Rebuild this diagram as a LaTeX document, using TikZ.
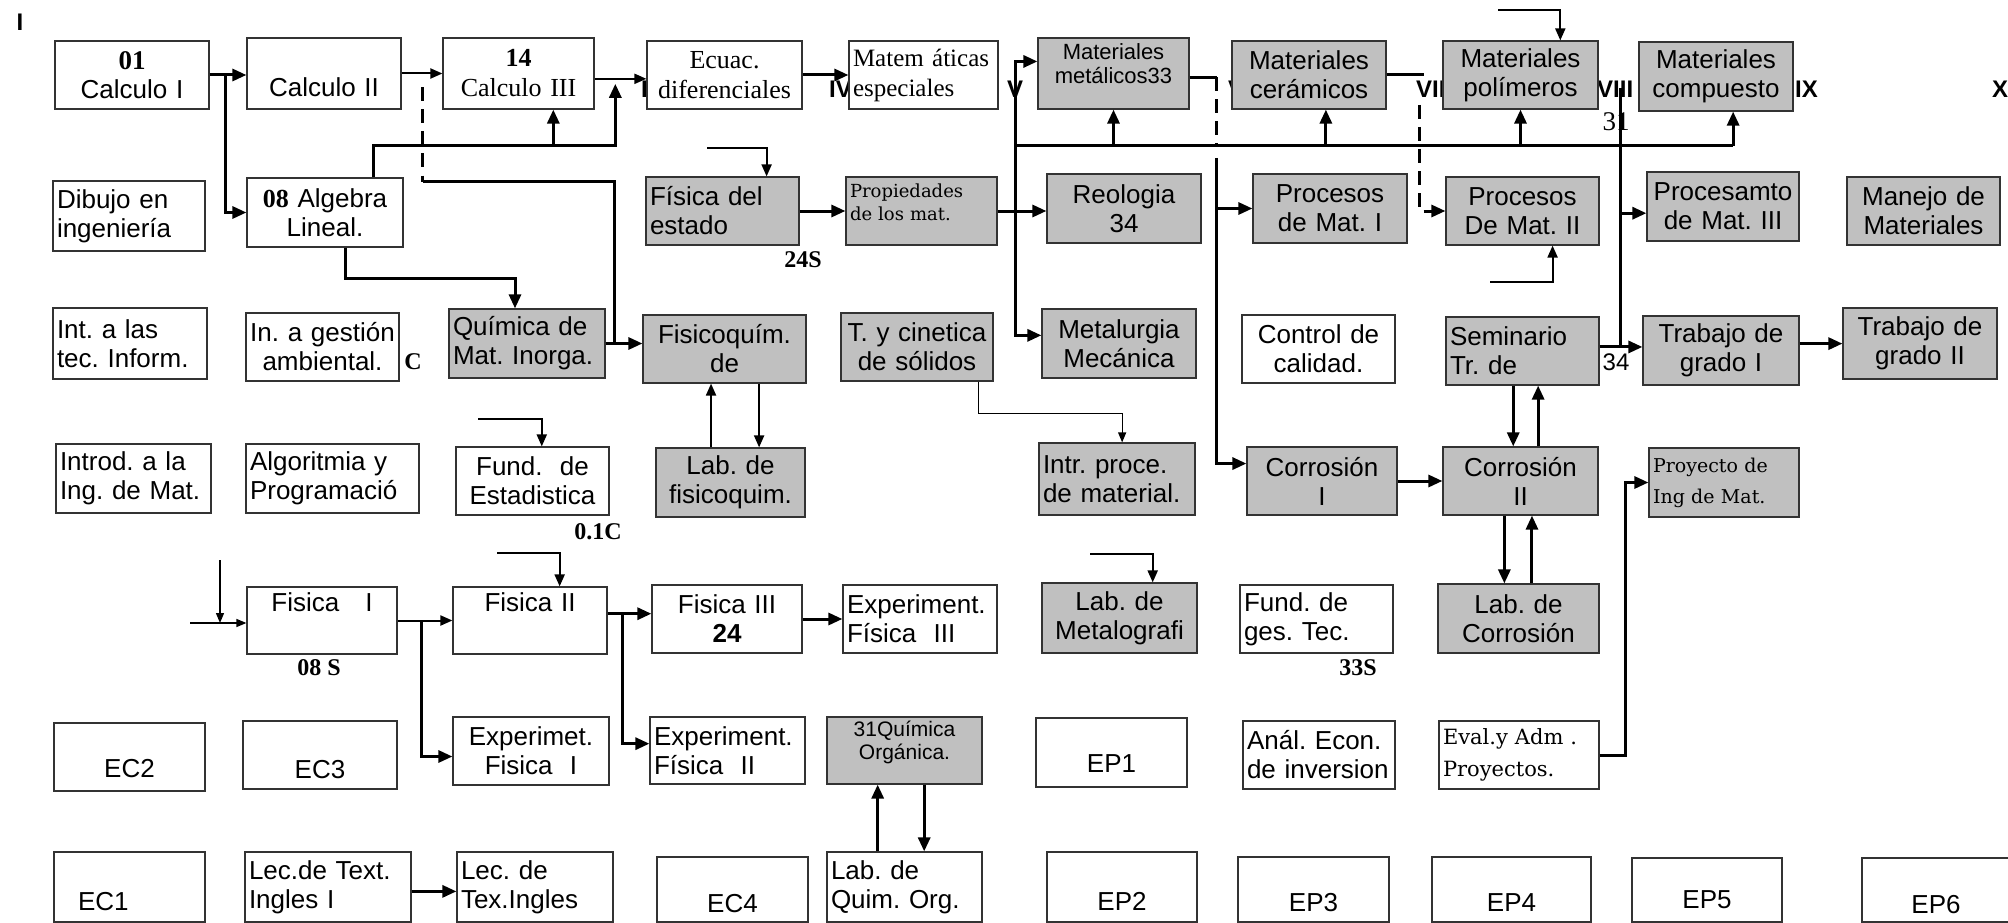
\documentclass[tikz,border=0pt]{standalone}
\usepackage{fontspec}
\setmainfont{Liberation Serif}
\setsansfont{Liberation Sans}
\newfontfamily\dejaserif{DejaVu Serif}
\usetikzlibrary{calc,arrows.meta,shadows}

\definecolor{grisbox}{RGB}{192,192,192}
\newcommand{\mover}[2]{\raisebox{#1}[0pt][0pt]{#2}}
\newcommand{\subir}[2][c]{\raisebox{2pt}[0pt][0pt]{\begin{tabular}{@{}#1@{}}#2\end{tabular}}}
\frenchspacing

\begin{document}
\begin{tikzpicture}
    [x=1pt, y=-1pt,
     caja/.style={draw=black!80, line width=1.2pt, fill=white,
       drop shadow={shadow xshift=1.3pt, shadow yshift=-1.3pt, opacity=1, fill=black},
       minimum height=68pt, inner xsep=4pt, inner ysep=2pt, text width=146pt,
       align=center, font=\sffamily\fontsize{26}{29}\selectfont},
     gris/.style={caja, fill=grisbox},
     izq/.style={align=left},
     serif/.style={font=\rmfamily\fontsize{26}{30}\selectfont},
     semestre/.style={font=\sffamily\bfseries\fontsize{24}{24}\selectfont, inner sep=0pt, anchor=west},
     nota/.style={font=\rmfamily\bfseries\fontsize{24}{24}\selectfont, inner sep=0pt},
     grueso/.style={line width=3pt},
     rayas/.style={dash pattern=on 14pt off 8pt},
     flecha/.style={grueso, -{Triangle[length=14pt,width=12pt]}},
     media/.style={line width=2pt, -{Triangle[length=12pt,width=10pt]}},
     fina/.style={line width=1.3pt, -{Triangle[length=10pt,width=8pt]}}]
    \useasboundingbox (0, 0) rectangle (2008, 923);
    \clip (0, 0) rectangle (2008, 923);

    % Semestres
    \node (sI) at (20, 22) [semestre, anchor=center] {I};
    \foreach \s/\x in {III/641, IV/829, V/1007, VI/1228, VII/1416, VIII/1597, IX/1795, X/1992}
        \node (s\s) at (\x, 89) [semestre] {\s};

    % Fila 1
    \node (calc1) at (132, 75) [caja] {{\rmfamily\bfseries\fontsize{27}{29}\selectfont 01}\\Calculo I};
    \node (calc2) at (324, 73.5) [caja, minimum height=71pt] {\mover{-23pt}{Calculo II}};
    \node (calc3) at (518.5, 73.5) [caja, serif, text width=143pt, minimum height=71pt] {\textbf{14}\\Calculo III};
    \node (ecuac) at (724.5, 75) [caja, serif, text width=147pt] {Ecuac.\\diferenciales};
    \node (matem) at (923.5, 75) [caja, izq, text width=141pt,
        font=\rmfamily\fontsize{25}{30}\selectfont] {\mbox{Matem áticas}\\especiales};
    \node (matmet) at (1113.5, 73.5) [gris, text width=143pt, minimum height=71pt,
        font=\sffamily\fontsize{22}{24}\selectfont] {\subir{Materiales\\metálicos33}};
    \node (ceram) at (1309, 75) [gris] {Materiales\\cerámicos};
    \node (polim) at (1520.5, 75) [gris, text width=147pt] {Materiales\\polímeros};
    \node (compu) at (1716, 76.5) [gris, minimum height=69pt] {Materiales\\compuesto};

    % Fila 2
    \node (dibujo) at (129, 216) [caja, izq, text width=144pt, minimum height=70pt] {Dibujo en\\ingeniería};
    \node (algebra) at (325, 212.5) [caja, text width=148pt, minimum height=69pt] {{\rmfamily\bfseries 08} Algebra\\Lineal.};
    \node (fisest) at (722.5, 211) [gris, izq, text width=145pt] {Física del\\estado};
    \node (prop) at (921.5, 211) [gris, izq, text width=143pt,
        font=\dejaserif\fontsize{18}{23}\selectfont] {\subir[l]{Propiedades\\de los mat.}};
    \node (reol) at (1124, 208.5) [gris, minimum height=69pt] {Reologia\\34};
    \node (proc1) at (1330, 208.5) [gris, minimum height=69pt] {Procesos\\de Mat. I};
    \node (proc2) at (1522.5, 211) [gris, text width=145pt] {Procesos\\De Mat. II};
    \node (proc3) at (1723, 206.5) [gris, text width=144pt, minimum height=69pt] {Procesamto\\de Mat. III};
    \node (manejo) at (1923.5, 211) [gris, text width=145pt] {Manejo de\\Materiales};

    % Fila 3
    \node (inttec) at (130, 343.5) [caja, izq, minimum height=71pt] {Int. a las\\tec. Inform.};
    \node (ingamb) at (322.5, 347) [caja, text width=145pt] {\mbox{In. a gestión}\\ambiental.};
    \node (quiminorg) at (527, 343.5) [gris, izq, text width=148pt, minimum height=69pt] {Química de\\Mat. Inorga.};
    \node (fisq) at (724.5, 349) [gris, text width=155pt] {Fisicoquím.\\de};
    \node (tcin) at (917, 347) [gris, text width=144pt] {T. y cinetica\\de sólidos};
    \node (metal) at (1119, 343.5) [gris, minimum height=69pt] {Metalurgia\\Mecánica};
    \node (control) at (1318.5, 349) [caja, text width=145pt] {Control de\\calidad.};
    \node (semin) at (1522.5, 351) [gris, izq, text width=145pt] {Seminario\\Tr. de};
    \node (trab1) at (1721, 350.5) [gris, text width=148pt, minimum height=69pt] {Trabajo de\\grado I};
    \node (trab2) at (1920, 343.5) [gris, minimum height=71pt] {Trabajo de\\grado II};

    % Fila 4
    \node (introd) at (133.5, 478.5) [caja, izq, text width=147pt, minimum height=69pt] {Introd. a la\\Ing. de Mat.};
    \node (algor) at (332.5, 478.5) [caja, izq, text width=165pt, minimum height=69pt] {Algoritmia y\\Programació};
    \node (fundest) at (532.5, 481) [caja, text width=145pt] {Fund.\ \ de\\Estadistica};
    \node (labfq) at (730.5, 482.5) [gris, text width=141pt, minimum height=69pt] {Lab. de\\fisicoquim.};
    \node (intrproc) at (1117, 479) [gris, izq, text width=148pt, minimum height=72pt] {Intr. proce.\\de material.};
    \node (corr1) at (1322, 481) [gris, text width=142pt] {Corrosión\\I};
    \node (corr2) at (1520.5, 481) [gris, text width=147pt] {Corrosión\\II};
    \node (proyecto) at (1724, 482.5) [gris, izq, text width=142pt, minimum height=69pt,
        font=\dejaserif\fontsize{19}{31}\selectfont] {Proyecto de\\Ing de Mat.};

    % Fila 5
    \node (fis1) at (322, 620.5) [caja, text width=142pt, minimum height=67pt] {\mover{9pt}{Fisica\ \ \ I}};
    \node (fis2) at (530, 620.5) [caja, minimum height=67pt] {\mover{9pt}{Fisica II}};
    \node (fis3) at (727, 619) [caja, text width=142pt] {Fisica III\\\textbf{24}};
    \node (expfis3) at (920, 619) [caja, izq] {Experiment.\\Física\ \ III};
    \node (labmet) at (1119.5, 618) [gris, text width=147pt, minimum height=70pt] {Lab. de\\Metalografi};
    \node (fundges) at (1316.5, 619) [caja, izq, text width=145pt] {Fund. de\\ges. Tec.};
    \node (labcorr) at (1518.5, 618.5) [gris, text width=153pt, minimum height=69pt] {Lab. de\\Corrosión};

    % Fila 6
    \node (ec2) at (129.5, 757) [caja, text width=143pt] {\mover{-20pt}{EC2}};
    \node (ec3) at (320, 755) [caja] {\mover{-23pt}{EC3}};
    \node (expfis1) at (531, 751) [caja, text width=148pt] {Experimet.\\Fisica\ \ I};
    \node (expfis2) at (727.5, 750.5) [caja, izq, text width=147pt, minimum height=67pt] {Experiment.\\Física\ \ II};
    \node (quimorg) at (904.5, 750.5) [gris, text width=147pt, minimum height=67pt,
        font=\sffamily\fontsize{21}{23}\selectfont] {\subir{31Química\\Orgánica.}};
    \node (ep1) at (1111.5, 752.5) [caja, text width=143pt, minimum height=69pt] {\mover{-20pt}{EP1}};
    \node (anal) at (1319, 755) [caja, izq, text width=144pt] {Anál. Econ.\\de inversion};
    \node (eval) at (1519, 755) [caja, izq, text width=152pt,
        font=\dejaserif\fontsize{21}{32}\selectfont] {Eval.y Adm .\\Proyectos.};

    % Fila 7
    \node (ec1) at (129.5, 887) [caja, izq, text width=143pt, minimum height=70pt] {\hspace*{20pt}\mover{-23pt}{EC1}};
    \node (lec1) at (328, 887) [caja, izq, text width=158pt, minimum height=70pt] {Lec.de Text.\\Ingles I};
    \node (lec2) at (535, 887) [caja, izq, text width=148pt, minimum height=70pt] {Lec. de\\Tex.Ingles};
    \node (ec4) at (732.5, 889.5) [caja, text width=143pt, minimum height=65pt] {\mover{-23pt}{EC4}};
    \node (labqo) at (904.5, 887) [caja, izq, text width=147pt, minimum height=70pt] {Lab. de\\Quim. Org.};
    \node (ep2) at (1122, 887) [caja, text width=142pt, minimum height=70pt] {\mover{-23pt}{EP2}};
    \node (ep3) at (1313.5, 889.5) [caja, text width=143pt, minimum height=65pt] {\mover{-22pt}{EP3}};
    \node (ep4) at (1511.5, 889.5) [caja, text width=151pt, minimum height=65pt] {\mover{-22pt}{EP4}};
    \node (ep5) at (1707, 890) [caja, text width=142pt, minimum height=64pt] {\mover{-18pt}{EP5}};
    \node (ep6) at (1936, 890) [caja, text width=140pt, minimum height=64pt] {\mover{-23pt}{EP6}};

    % Calculo y algebra
    \draw[flecha] (calc1.east) -- (calc2.west |- calc1.east);
    \draw[flecha] (calc1.east) ++(16, 0) |- (algebra.west);
    \draw[media] (calc2.east) -- (calc3.west);
    \draw[grueso, rayas] (calc2.east) ++(21, 14) -- ++(0, 94) coordinate (j2);
    \draw[flecha] (quiminorg.east) -- coordinate[pos=.25] (j3) (fisq.west |- quiminorg.east);
    \draw[grueso] (j2) -| (j3);
    \draw[media] (calc3.-4) -- coordinate[pos=.4] (j5) (ecuac.west |- calc3.-4);
    \draw[flecha] (algebra.north east) ++(-30, 0) |- ($(j5) + (0, 67)$) coordinate (j6) -- ($(j5) + (0, 5)$);
    \coordinate (j7) at ($(j6) + (-62, 0)$);
    \draw[flecha] (j7) -- (j7 |- calc3.south);
    \draw[flecha] (ecuac.east) -- (matem.west |- ecuac.east);
    \draw[flecha] (algebra.south) ++(20, 0) |- ($(quiminorg.north) + (-12, -30)$) -- ($(quiminorg.north) + (-12, 0)$);

    % Fisica del estado y materiales
    \coordinate (libre1) at (707, 148);
    \draw[media] (libre1) -| ([xshift=-33pt]fisest.north east);
    \draw[flecha] (fisest.east) -- (prop.west);
    \draw[flecha] (prop.east) -- coordinate[pos=.36] (j8) (reol.west |- prop.east);
    \draw[flecha] (j8) |- (matmet.171);
    \draw[flecha] (j8) |- (metal.174);
    \draw[grueso] (j8 |- j6) -- (compu.-64 |- j6);
    \foreach \a in {matmet.south, ceram.-64, polim.south, compu.-64}
        \draw[flecha] (\a |- j6) -- (\a);

    % Procesos
    \draw[grueso] (matmet.-3) -- ++(27, 0) coordinate (j9);
    \draw[grueso, rayas] (j9) -- (j9 |- j6);
    \coordinate (j10) at ($(j9 |- j6) + (0, 12)$);
    \draw[flecha] (j10) |- (corr1.167);
    \draw[flecha] (j9 |- proc1.west) -- (proc1.west);
    \draw[grueso] (ceram.east) -- ++(37, 0);
    \draw[flecha, rayas] (ceram.east) ++(33, 30) |- (proc2.west);
    \coordinate (libre2) at (1498, 10);
    \draw[media] (libre2) -| (polim.41);
    \coordinate (libre4) at (1490, 282);
    \draw[media] (libre4) -| (proc2.-49);

    % Trabajo de grado
    \coordinate (libre3) at (1620, 88);
    \draw[flecha] (semin.3) -- (trab1.west |- semin.3);
    \draw[grueso] (libre3) -- (libre3 |- semin.3);
    \draw[flecha] (libre3 |- proc3.185) -- (proc3.185);
    \draw[flecha] (trab1.5) -- (trab2.west |- trab1.5);

    % Fisicoquimica
    \draw[fina] (tcin.south east) ++(-15, 0) -- ++(0, 32) -| (intrproc.82);
    \draw[media] (labfq.119) -- (labfq.119 |- fisq.south);
    \draw[media] (fisq.-45) -- (fisq.-45 |- labfq.north);
    \coordinate (libre5) at (478, 419);
    \draw[media] (libre5) -| (fundest.75);

    % Corrosion
    \draw[flecha] (corr1.east) -- (corr2.west |- corr1.east);
    \draw[flecha] (semin.-105) -- (semin.-105 |- corr2.north);
    \draw[flecha] (corr2.63) -- (corr2.63 |- semin.south);
    \draw[flecha] (corr2.-115) -- (corr2.-115 |- labcorr.north);
    \draw[flecha] (labcorr.69) -- (labcorr.69 |- corr2.south);

    % Fisica
    \coordinate (libre6) at (220, 560);
    \coordinate (libre7) at (190, 623);
    \draw[fina] (libre6) -- (libre6 |- libre7);
    \draw[fina] (libre7) -- (libre7 -| fis1.west);
    \draw[media] (fis1.east) -- (fis2.west);
    \draw[flecha] (fis1.east) ++(24, 0) |- (expfis1.184);
    \coordinate (libre8) at (497, 553);
    \draw[media] (libre8) -| (fis2.49);
    \draw[flecha] (fis2.5) -- coordinate[pos=.33] (j11) (fis3.west |- fis2.5);
    \draw[flecha] (j11) |- (expfis2.175);
    \draw[flecha] (fis3.east) -- (expfis3.west);
    \coordinate (libre9) at (1090, 554);
    \draw[media] (libre9) -| (labmet.47);

    % Quimica organica, lectura, proyectos
    \draw[flecha] (labqo.127) -- (labqo.127 |- quimorg.south);
    \draw[flecha] (quimorg.-60) -- (quimorg.-60 |- labqo.north);
    \draw[flecha] (lec1.-3) -- (lec2.west |- lec1.-3);
    \draw[flecha] (eval.east) -- ++(26, 0) |- (proyecto.west);

    % Notas
    \node (n24s) at (803, 260) [nota] {24S};
    \node (nc) at (413, 362) [nota] {C};
    \node (n01c) at (598, 532) [nota] {0.1C};
    \node (n08s) at (319, 668) [nota] {08 S};
    \node (n33s) at (1358, 668) [nota] {33S};
    \node (n31) at (1616, 122) [font=\rmfamily\fontsize{27}{27}\selectfont, inner sep=0pt] {31};
    \node (n34) at (1616, 362) [font=\sffamily\fontsize{24}{24}\selectfont, inner sep=0pt] {34};
\end{tikzpicture}
\end{document}
